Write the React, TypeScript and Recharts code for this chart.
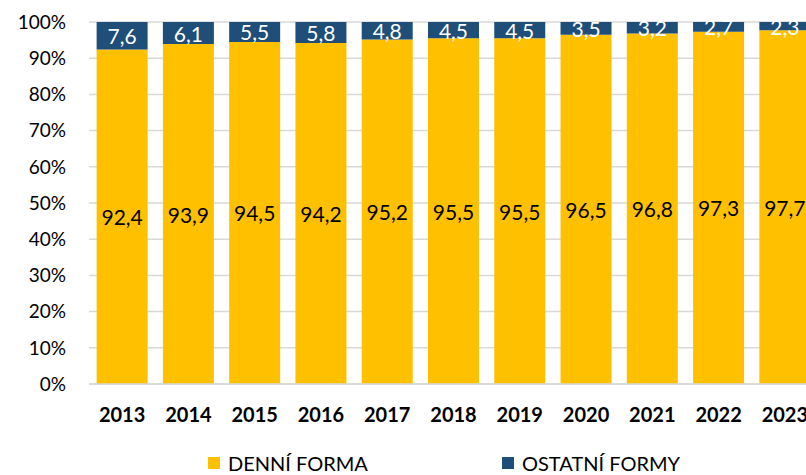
import { Bar, BarChart, CartesianGrid, LabelList, Legend, XAxis, YAxis } from "recharts";

const YEARS = ["2013", "2014", "2015", "2016", "2017", "2018", "2019", "2020", "2021", "2022", "2023"];
const DENNI = [92.4, 93.9, 94.5, 94.2, 95.2, 95.5, 95.5, 96.5, 96.8, 97.3, 97.7];
const OSTATNI = [7.6, 6.1, 5.5, 5.8, 4.8, 4.5, 4.5, 3.5, 3.2, 2.7, 2.3];
const Y_TICKS = [0, 10, 20, 30, 40, 50, 60, 70, 80, 90, 100];

const YELLOW = "#FFC000";
const NAVY = "#1F4E79";
const FONT = "Lato, 'Open Sans', sans-serif";

const data = YEARS.map((year, i) => ({ year, denni: DENNI[i], ostatni: OSTATNI[i] }));

const fmt = (v: number) => v.toFixed(1).replace(".", ",");

function SegmentLabel(props: any, color: string) {
  const { x, y, width, height, value } = props;
  return (
    <text
      x={Number(x) + Number(width) / 2}
      y={Number(y) + Number(height) / 2}
      fill={color}
      textAnchor="middle"
      dominantBaseline="central"
      fontSize={21}
      fontFamily={FONT}
      clipPath="url(#plotTopClip)"
    >
      {fmt(Number(value))}
    </text>
  );
}

function LegendBox() {
  const item = (left: number, color: string, label: string) => (
    <div style={{ position: "absolute", left, top: 0, display: "flex", alignItems: "center" }}>
      <span style={{ width: 12, height: 12, background: color, display: "inline-block", marginRight: 8 }} />
      <span style={{ fontSize: 20, color: "#000", whiteSpace: "nowrap" }}>{label}</span>
    </div>
  );
  return (
    <div style={{ position: "relative", height: 40, fontFamily: FONT }}>
      <div style={{ position: "absolute", top: 16, left: 0, right: 0 }}>
        {item(208, YELLOW, "DENNÍ FORMA")}
        {item(502, NAVY, "OSTATNÍ FORMY")}
      </div>
    </div>
  );
}

export default function App() {
  return (
    <div style={{ position: "absolute", left: 0, top: 0, width: 806, height: 475, overflow: "hidden", background: "#fff", fontFamily: FONT }}>
      <svg width={0} height={0} style={{ position: "absolute" }}>
        <defs>
          <clipPath id="plotTopClip" clipPathUnits="userSpaceOnUse">
            <rect x={0} y={21} width={2000} height={2000} />
          </clipPath>
        </defs>
      </svg>
      <BarChart
        width={820}
        height={475}
        data={data}
        margin={{ top: 22, right: 2, left: 0, bottom: 0 }}
        barCategoryGap="11.5%"
      >
        <CartesianGrid vertical={false} stroke="#d9d9d9" strokeWidth={1.5} />
        <XAxis
          dataKey="year"
          height={51}
          tickLine={false}
          axisLine={{ stroke: "#d9d9d9", strokeWidth: 1.5 }}
          tickMargin={18}
          interval={0}
          tick={{ fill: "#000", fontSize: 20, fontWeight: 700, fontFamily: FONT }}
        />
        <YAxis
          width={89}
          domain={[0, 100]}
          ticks={Y_TICKS}
          tickFormatter={(v: number) => `${v}%`}
          tickLine={false}
          axisLine={false}
          tickSize={0}
          tickMargin={23}
          tick={{ fill: "#000", fontSize: 19, fontFamily: FONT }}
        />
        <Legend verticalAlign="bottom" height={40} content={() => <LegendBox />} />
        <Bar dataKey="denni" name="DENNÍ FORMA" stackId="a" fill={YELLOW} isAnimationActive={false}>
          <LabelList dataKey="denni" content={(p: any) => SegmentLabel(p, "#000")} />
        </Bar>
        <Bar dataKey="ostatni" name="OSTATNÍ FORMY" stackId="a" fill={NAVY} isAnimationActive={false}>
          <LabelList dataKey="ostatni" content={(p: any) => SegmentLabel(p, "#fff")} />
        </Bar>
      </BarChart>
    </div>
  );
}
